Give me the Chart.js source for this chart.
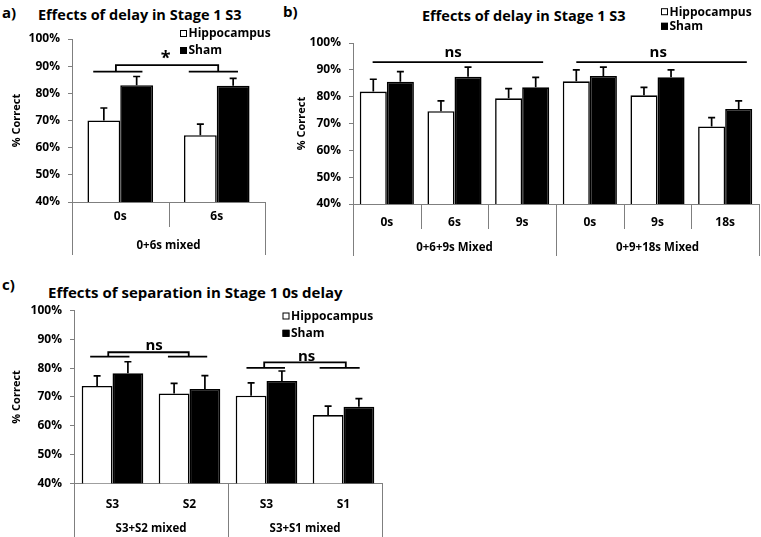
<!DOCTYPE html>
<html><head><meta charset="utf-8">
<script src="https://cdn.jsdelivr.net/npm/chart.js@4"></script>
<style>
body{margin:0;background:#fff;width:761px;height:537px;overflow:hidden;position:relative;font-family:"Open Sans",sans-serif;}
canvas{position:absolute;}
.t{position:absolute;font-weight:bold;white-space:nowrap;color:#000;line-height:1;font-family:"Open Sans",sans-serif;}
</style></head><body>
<div class="t" style="left:2px;top:5px;font-size:15px">a)</div>
<div class="t" style="left:38px;top:8px;font-size:14.5px">Effects of delay in Stage 1 S3</div>
<div class="t" style="left:283px;top:4px;font-size:15px">b)</div>
<div class="t" style="left:422px;top:9px;font-size:14.5px">Effects of delay in Stage 1 S3</div>
<div class="t" style="left:2px;top:277px;font-size:15px">c)</div>
<div class="t" style="left:48px;top:285px;font-size:15px">Effects of separation in Stage 1 0s delay</div>
<canvas id="ca" width="280" height="262" style="left:0;top:0;width:280px;height:262px"></canvas>
<canvas id="cb" width="481" height="262" style="left:280px;top:0;width:481px;height:262px"></canvas>
<canvas id="cc" width="420" height="267" style="left:0;top:270px;width:420px;height:267px"></canvas>
<script>
// ---- Panel a data ----
const aCategories = ['0s', '6s'];
const aGroups = ['0+6s mixed'];
const aGroupSizes = [2];
const aHippo = [70.0, 64.6];
const aHippoErr = [4.6, 4.1];
const aSham = [83.0, 82.8];
const aShamErr = [3.2, 2.7];

// ---- Panel b data ----
const bCategories = ['0s', '6s', '9s', '0s', '9s', '18s'];
const bGroups = ['0+6+9s Mixed', '0+9+18s Mixed'];
const bGroupSizes = [3, 3];
const bHippo = [81.9, 74.6, 79.4, 85.7, 80.5, 68.9];
const bHippoErr = [4.6, 3.8, 3.6, 4.3, 3.0, 3.3];
const bSham = [85.6, 87.4, 83.5, 87.7, 87.2, 75.4];
const bShamErr = [3.7, 3.6, 3.7, 3.3, 2.8, 3.0];

// ---- Panel c data ----
const cCategories = ['S3', 'S2', 'S3', 'S1'];
const cGroups = ['S3+S2 mixed', 'S3+S1 mixed'];
const cGroupSizes = [2, 2];
const cHippo = [73.8, 71.2, 70.4, 63.7];
const cHippoErr = [3.5, 3.5, 4.5, 3.1];
const cSham = [78.2, 72.7, 75.5, 66.6];
const cShamErr = [4.0, 4.7, 3.5, 2.8];

const seriesNames = ['Hippocampus', 'Sham'];
const yTicks = [40, 50, 60, 70, 80, 90, 100];
const yTitle = '% Correct';

const FONT = '"Open Sans", sans-serif';
const AXIS = '#7f7f7f';

function panel(id, cfg) {
  const n = cfg.cats.length;
  const A = cfg.area;
  const plugin = {
    id: 'ann_' + id,
    afterDatasetsDraw(chart) {
      const ctx = chart.ctx, xs = chart.scales.x, ys = chart.scales.y;
      const cw = (xs.right - xs.left) / n;
      const ux = u => xs.left + u * cw;
      const base = ys.bottom;
      ctx.save();
      // error bars (upper only)
      [[cfg.hippo, cfg.hippoErr], [cfg.sham, cfg.shamErr]].forEach(([vals, errs], di) => {
        chart.getDatasetMeta(di).data.forEach((el, i) => {
          const y0 = ys.getPixelForValue(vals[i]);
          const y1 = ys.getPixelForValue(vals[i] + errs[i]);
          ctx.strokeStyle = '#000'; ctx.lineWidth = 1.7;
          ctx.beginPath();
          ctx.moveTo(el.x, y0); ctx.lineTo(el.x, y1);
          ctx.moveTo(el.x - 3.5, y1); ctx.lineTo(el.x + 3.5, y1);
          ctx.stroke();
        });
      });
      // category / group separators below the axis
      const groupEdges = [0];
      cfg.groupSizes.forEach(s => groupEdges.push(groupEdges[groupEdges.length - 1] + s));
      ctx.strokeStyle = AXIS; ctx.lineWidth = 1;
      for (let i = 0; i <= n; i++) {
        const xp = Math.round(ux(i)) + 0.5;
        const isGroup = groupEdges.includes(i);
        if (!isGroup && !cfg.innerSeps) continue;
        ctx.beginPath();
        ctx.moveTo(xp, base);
        ctx.lineTo(xp, base + (isGroup ? cfg.groupLen : cfg.innerLen));
        ctx.stroke();
      }
      // group labels
      ctx.fillStyle = '#000';
      ctx.font = 'bold 11.5px ' + FONT;
      ctx.textAlign = 'center'; ctx.textBaseline = 'middle';
      cfg.groups.forEach((g, gi) => {
        const c = (groupEdges[gi] + groupEdges[gi + 1]) / 2;
        ctx.fillText(g, ux(c), base + cfg.groupLabelDy);
      });
      // significance annotations
      ctx.strokeStyle = '#000'; ctx.lineWidth = 1.8;
      cfg.marks.forEach(m => {
        if (m.t === 'line') {
          const yp = ys.getPixelForValue(m.v);
          ctx.beginPath(); ctx.moveTo(ux(m.u0), yp); ctx.lineTo(ux(m.u1), yp); ctx.stroke();
        } else if (m.t === 'bracket') {
          const yt = ys.getPixelForValue(m.vTop), yb = ys.getPixelForValue(m.vBase);
          ctx.beginPath();
          ctx.moveTo(ux(m.u0), yb); ctx.lineTo(ux(m.u0), yt);
          ctx.lineTo(ux(m.u1), yt); ctx.lineTo(ux(m.u1), yb);
          ctx.stroke();
        } else if (m.t === 'text') {
          ctx.font = 'bold ' + m.size + 'px ' + FONT;
          ctx.textAlign = 'center'; ctx.textBaseline = 'middle';
          ctx.fillText(m.text, ux(m.u), ys.getPixelForValue(m.v));
        }
      });
      // legend
      const L = cfg.legend;
      ctx.font = 'bold 12px ' + FONT;
      ctx.textAlign = 'left'; ctx.textBaseline = 'middle';
      seriesNames.forEach((name, k) => {
        const yy = L.y[k];
        ctx.lineWidth = 1;
        ctx.fillStyle = k === 0 ? '#fff' : '#000';
        ctx.fillRect(L.x, yy - 3.5, 7, 7);
        ctx.strokeStyle = '#000';
        ctx.strokeRect(L.x + 0.5, yy - 3.5 + 0.5, 6, 6);
        ctx.fillStyle = '#000';
        ctx.fillText(name, L.x + 8.5, yy + 0.5);
      });
      ctx.restore();
    }
  };
  return new Chart(document.getElementById(id), {
    type: 'bar',
    data: {
      labels: cfg.cats,
      datasets: [
        { label: seriesNames[0], data: cfg.hippo, backgroundColor: '#fff', borderColor: '#000', borderWidth: 1.6,
          barPercentage: 1, categoryPercentage: cfg.catPct },
        { label: seriesNames[1], data: cfg.sham, backgroundColor: '#000', borderColor: '#000', borderWidth: 1.6,
          barPercentage: 1, categoryPercentage: cfg.catPct }
      ]
    },
    options: {
      responsive: false, animation: false, devicePixelRatio: 1,
      layout: { padding: { left: 0, top: A.top, right: cfg.w - A.right, bottom: 0 } },
      plugins: { legend: { display: false }, tooltip: { enabled: false } },
      scales: {
        x: {
          type: 'category', offset: true,
          grid: { display: true, drawOnChartArea: false, drawTicks: false },
          border: { display: true, color: AXIS, width: 1 },
          ticks: { color: '#000', font: { family: FONT, weight: 'bold', size: 12 }, padding: cfg.catPad, maxRotation: 0, autoSkip: false },
          afterFit: s => { s.height = cfg.h - A.bottom; }
        },
        y: {
          min: 40, max: 100,
          afterBuildTicks: s => { s.ticks = yTicks.map(v => ({ value: v })); },
          grid: { display: true, drawOnChartArea: false, drawTicks: true, tickLength: 4, color: AXIS },
          border: { display: true, color: AXIS, width: 1 },
          ticks: { color: '#000', font: { family: FONT, weight: 'bold', size: 12 }, padding: 8, callback: v => v + '%' },
          title: { display: true, text: yTitle, color: '#000', font: { family: FONT, weight: 'bold', size: 11 }, padding: { top: cfg.titlePad, bottom: 0 } },
          afterFit: s => { s.width = A.left; }
        }
      }
    },
    plugins: [plugin]
  });
}

panel('ca', {
  w: 280, h: 262, area: { left: 72, top: 39, right: 265, bottom: 202 },
  cats: aCategories, groups: aGroups, groupSizes: aGroupSizes,
  hippo: aHippo, hippoErr: aHippoErr, sham: aSham, shamErr: aShamErr,
  catPct: 0.68, catPad: 7, innerSeps: true, innerLen: 25, groupLen: 53, groupLabelDy: 44, titlePad: 10.5,
  legend: { x: 180, y: [33.5, 50.5] },
  marks: [
    { t: 'line', u0: 0.22, u1: 0.73, v: 88 },
    { t: 'line', u0: 1.21, u1: 1.72, v: 88 },
    { t: 'bracket', u0: 0.455, u1: 1.515, vTop: 90.4, vBase: 88 },
    { t: 'text', u: 0.97, v: 92.6, text: '*', size: 18 }
  ]
});

panel('cb', {
  w: 481, h: 262, area: { left: 73, top: 43, right: 479, bottom: 204 },
  cats: bCategories, groups: bGroups, groupSizes: bGroupSizes,
  hippo: bHippo, hippoErr: bHippoErr, sham: bSham, shamErr: bShamErr,
  catPct: 0.8, catPad: 11, innerSeps: true, innerLen: 25, groupLen: 52, groupLabelDy: 44, titlePad: 15,
  legend: { x: 381, y: [11.7, 26.3] },
  marks: [
    { t: 'line', u0: 0.29, u1: 2.81, v: 92.9 },
    { t: 'line', u0: 3.30, u1: 5.82, v: 92.9 },
    { t: 'text', u: 1.48, v: 96.4, text: 'ns', size: 15 },
    { t: 'text', u: 4.51, v: 96.4, text: 'ns', size: 15 }
  ]
});

panel('cc', {
  w: 420, h: 267, area: { left: 74, top: 40.5, right: 382, bottom: 213.3 },
  cats: cCategories, groups: cGroups, groupSizes: cGroupSizes,
  hippo: cHippo, hippoErr: cHippoErr, sham: cSham, shamErr: cShamErr,
  catPct: 0.8, catPad: 14, innerSeps: false, innerLen: 0, groupLen: 60, groupLabelDy: 45, titlePad: 10.5,
  legend: { x: 282.5, y: [46, 63.3] },
  marks: [
    { t: 'line', u0: 0.21, u1: 0.72, v: 84.0 },
    { t: 'line', u0: 1.22, u1: 1.73, v: 84.0 },
    { t: 'bracket', u0: 0.445, u1: 1.49, vTop: 85.5, vBase: 84.0 },
    { t: 'text', u: 1.04, v: 87.8, text: 'ns', size: 15 },
    { t: 'line', u0: 2.24, u1: 2.74, v: 80.1 },
    { t: 'line', u0: 3.19, u1: 3.71, v: 80.1 },
    { t: 'bracket', u0: 2.47, u1: 3.53, vTop: 82.0, vBase: 80.1 },
    { t: 'text', u: 3.02, v: 84.1, text: 'ns', size: 15 }
  ]
});
</script>
</body></html>
